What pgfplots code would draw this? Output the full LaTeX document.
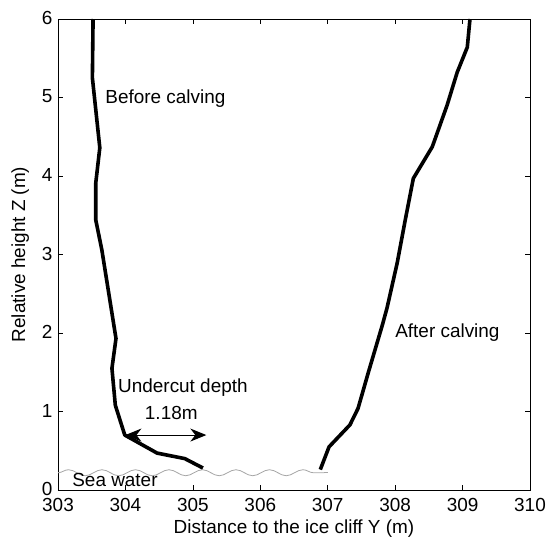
\documentclass[border=0pt]{standalone}
\usepackage{fontspec}
\setmainfont{Liberation Sans}
\usepackage{pgfplots}
\pgfplotsset{compat=1.18}
\usetikzlibrary{arrows.meta,decorations.pathmorphing}

% Ice-cliff profiles measured before and after the calving event
\pgfplotstableread{
y      z
303.52 6.00
303.51 5.25
303.62 4.36
303.56 3.91
303.56 3.44
303.65 3.06
303.86 1.93
303.80 1.55
303.85 1.08
303.99 0.70
304.47 0.47
304.88 0.40
305.15 0.28
}\before

\pgfplotstableread{
y      z
306.89 0.26
307.02 0.55
307.33 0.83
307.45 1.04
307.60 1.49
307.81 2.10
307.88 2.32
308.03 2.89
308.15 3.44
308.27 3.97
308.55 4.37
308.77 4.90
308.92 5.32
309.07 5.64
309.11 6.00
}\after

\begin{document}
\begin{tikzpicture}[font=\fontsize{19}{22}\selectfont]
\begin{axis}[
  at={(0,0)}, anchor=south west,
  scale only axis, width=472bp, height=471bp,
  xmin=303, xmax=310, ymin=0, ymax=6,
  xtick={303,...,310}, ytick={0,...,6},
  tick align=inside, tick pos=both,
  major tick length=5bp,
  axis line style={line width=0.8bp},
  tick style={line width=0.6bp, black},
  /pgf/number format/assume math mode=true,
  /pgf/number format/1000 sep={},
  ticklabel style={font=\fontsize{19}{22}\selectfont},
  xticklabel style={yshift=-5bp},
  yticklabel style={xshift=-2bp, yshift=1bp},
  xlabel={Distance to the ice cliff Y (m)},
  ylabel={Relative height Z (m)},
  label style={font=\fontsize{19}{22}\selectfont},
  xlabel style={yshift=-1bp},
  ylabel style={yshift=6bp},
  clip=false,
]
  % sea surface
  \draw[gray!70, line width=0.8bp,
        decorate, decoration={snake, segment length=33.5bp, amplitude=3bp}]
    (axis cs:303,0.22) -- (axis cs:306.95,0.22);
  \draw[gray!70, line width=0.8bp] (axis cs:306.95,0.22) -- (axis cs:307.0,0.22);

  \addplot[black, line width=3.6bp, line join=round, no marks] table[x=y, y=z] {\before};
  \addplot[black, line width=3.6bp, line join=round, no marks] table[x=y, y=z] {\after};

  % undercut arrow
  \draw[line width=1.1bp, {Stealth[length=16bp,width=13bp,inset=5bp]}-{Stealth[length=16bp,width=13bp,inset=5bp]}]
    (axis cs:304.0,0.70) -- (axis cs:305.2,0.70);

  \node[anchor=west, inner sep=0pt] at (axis cs:303.70,4.99) {Before calving};
  \node[anchor=west, inner sep=0pt] at (axis cs:308.00,2.00) {After calving};
  \node[anchor=west, inner sep=0pt] at (axis cs:303.89,1.30) {Undercut depth};
  \node[inner sep=0pt] at (axis cs:304.68,0.98) {1.18m};
  \node[anchor=west, inner sep=0pt] at (axis cs:303.21,0.13) {Sea water};
\end{axis}
\pgfresetboundingbox
\path (-58bp,-49bp) rectangle (497bp,490bp);
\end{tikzpicture}
\end{document}
